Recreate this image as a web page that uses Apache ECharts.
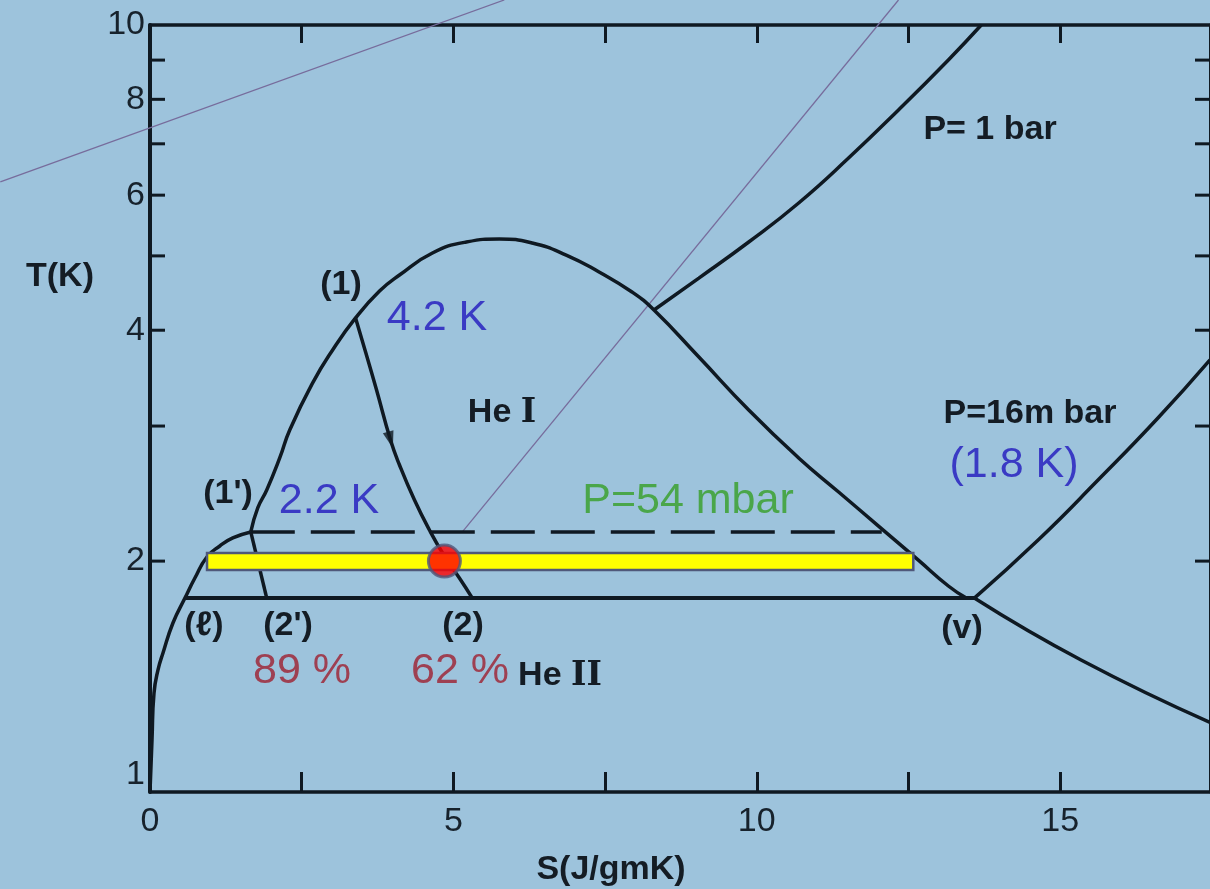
<!DOCTYPE html>
<html><head><meta charset="utf-8">
<script src="https://cdn.jsdelivr.net/npm/echarts@6/dist/echarts.min.js"></script>
<style>html,body{margin:0;padding:0;background:#9dc3dc}#c{width:1210px;height:889px}</style>
</head><body><div id="c"></div>
<script>
// ---- data (S in J/gmK, T in K) ----
const X_MIN = 0, X_MAX = 17.47, Y_MIN = 1, Y_MAX = 10;
const xTickLabels = [0, 5, 10, 15];
const yTickValues = [2, 3, 4, 5, 6, 7, 8, 9];
const yTickLabels = [1, 2, 4, 6, 8, 10];

const domeLiquidS = [0, 0.033, 0.066, 0.132, 0.214, 0.378, 0.576, 0.740, 0.938, 1.151, 1.365, 1.661];
const domeLiquidT = [1.000, 1.169, 1.346, 1.443, 1.518, 1.661, 1.790, 1.901, 2.025, 2.093, 2.144, 2.183];

const domeUpperS = [1.661, 1.776, 1.924, 2.138, 2.303, 2.681, 3.010, 3.388, 3.783, 4.112, 4.655, 5.214, 5.757, 6.299, 6.859, 7.401, 7.944, 8.306, 9.046, 9.868, 10.691, 11.349, 12.007, 12.664, 13.158, 13.454];
const domeUpperT = [2.183, 2.346, 2.476, 2.726, 2.965, 3.415, 3.770, 4.150, 4.499, 4.721, 5.044, 5.213, 5.260, 5.197, 5.013, 4.764, 4.486, 4.250, 3.691, 3.148, 2.726, 2.461, 2.222, 2.006, 1.856, 1.790];

const vaporTailS = [13.586, 15.345, 17.47];
const vaporTailT = [1.790, 1.486, 1.232];

const isobar1barS = [8.306, 9.046, 9.868, 10.691, 11.513, 12.336, 13.158, 13.70];
const isobar1barT = [4.250, 4.678, 5.213, 5.861, 6.707, 7.748, 9.004, 10.0];

const isobar16mbarS = [13.586, 14.638, 15.625, 16.612, 17.47];
const isobar16mbarT = [1.790, 2.131, 2.551, 3.073, 3.66];

const line18KS = [0.576, 13.586];
const line18KT = [1.79, 1.79];

const dashed22KS = [1.661, 12.06];
const dashed22KT = [2.183, 2.183];

const expansion12S = [3.388, 3.553, 3.734, 3.964, 4.112, 4.359, 4.605, 4.852, 5.099, 5.312];
const expansion12T = [4.150, 3.747, 3.343, 2.877, 2.669, 2.402, 2.196, 2.031, 1.901, 1.790];

const expansion1p2pS = [1.661, 1.924];
const expansion1p2pT = [2.183, 1.790];

const arrowPoint = [3.964, 2.877];

const guideAS = [-2.467, 5.839];
const guideAT = [6.243, 10.78];
const guideBS = [5.148, 12.336];
const guideBT = [2.183, 10.78];

const barS0 = 0.94, barS1 = 12.58, barT = 2.0;
const dotPoint = [4.852, 2.0];

// ---- helpers ----
const zip = (a, b) => a.map((v, i) => [v, b[i]]);
const INK = '#0f1922';
const FONT = '"Liberation Sans", Arial, sans-serif';

function blackLine(name, S, T, extra) {
  return Object.assign({
    name, type: 'line', data: zip(S, T), symbol: 'none', silent: true,
    lineStyle: { color: INK, width: 3.5 }, z: 3
  }, extra || {});
}

const annotations = [
  ['(1)', 341, 285, 'k'],
  ['4.2 K', 437, 318, 'b'],
  ['He {n|I}', 502, 413, 'k'],
  ["(1')", 228, 494, 'k'],
  ['2.2 K', 329, 501, 'b'],
  ['P=54 mbar', 688, 501, 'g'],
  ['(\u2113)', 204, 626, 'k'],
  ["(2')", 288, 626, 'k'],
  ['(2)', 463, 626, 'k'],
  ['89 %', 302, 671, 'r'],
  ['62 %', 460, 671, 'r'],
  ['He {n|II}', 560, 676, 'k'],
  ['(v)', 962, 629, 'k'],
  ['P= 1 bar', 990, 130, 'k'],
  ['P=16m bar', 1030, 414, 'k'],
  ['(1.8 K)', 1014, 465, 'b'],
  ['T(K)', 60, 277, 'k'],
  ['S(J/gmK)', 611, 870, 'k']
];
const colorMap = { k: '#141c24', b: '#3a3ac4', g: '#4aa64a', r: '#9e4052' };

const graphic = annotations.map(([t, x, y, c]) => ({
  type: 'text', x, y, silent: true, z: 10,
  style: {
    text: t, fill: colorMap[c],
    font: (c === 'k' ? 'bold 34px ' : '43px ') + FONT,
    lineHeight: 44,
    align: 'center', textAlign: 'center', verticalAlign: 'middle', textVerticalAlign: 'middle',
    rich: { n: { fontFamily: '"DejaVu Serif"', fontWeight: 'bold', fontSize: 33, lineHeight: 44,
      fill: colorMap.k, color: colorMap.k } }
  }
}));

const chart = echarts.init(document.getElementById('c'), null, { renderer: 'canvas' });
const axisCommonX = {
  type: 'value', min: X_MIN, max: X_MAX, interval: 2.5,
  axisLine: { show: true, onZero: false, lineStyle: { color: INK, width: 3.5 } },
  splitLine: { show: false }
};
const guideLine = (S, T) => ({
  type: 'custom', data: [[S[0], T[0], S[1], T[1]]], encode: { x: [0, 2], y: [1, 3] },
  clip: false, silent: true, z: 2,
  renderItem: (params, api) => {
    const a = api.coord([api.value(0), api.value(1)]);
    const b = api.coord([api.value(2), api.value(3)]);
    return { type: 'line', shape: { x1: a[0], y1: a[1], x2: b[0], y2: b[1] },
      style: { stroke: '#776c9c', lineWidth: 1.3 } };
  }
});
chart.setOption({
  animation: false,
  backgroundColor: '#9dc3dc',
  grid: { left: 150, top: 25, width: 1062, height: 767 },
  graphic,
  xAxis: [
    Object.assign({}, axisCommonX, {
      position: 'bottom',
      axisTick: { show: true, inside: true, length: 20, lineStyle: { color: INK, width: 3 } },
      axisLabel: {
        show: true, margin: 13, fontSize: 34, fontFamily: FONT, color: '#17222c',
        showMaxLabel: false,
        formatter: v => (xTickLabels.indexOf(Math.round(v * 100) / 100) >= 0 ? String(v) : '')
      }
    }),
    Object.assign({}, axisCommonX, {
      position: 'top',
      axisTick: { show: true, inside: true, length: 18, lineStyle: { color: INK, width: 3 } },
      axisLabel: { show: false }
    })
  ],
  yAxis: [
    { type: 'log', logBase: 10, min: Y_MIN, max: Y_MAX, position: 'left',
      axisLine: { show: true, onZero: false, lineStyle: { color: INK, width: 4 } },
      axisTick: { show: false }, axisLabel: { show: false }, splitLine: { show: false } },
    { type: 'log', logBase: 10, min: Y_MIN, max: Y_MAX, position: 'right',
      axisLine: { show: true, onZero: false, lineStyle: { color: INK, width: 3 } },
      axisTick: { show: false }, axisLabel: { show: false }, splitLine: { show: false } }
  ],
  series: [
    blackLine('domeLiquid', domeLiquidS, domeLiquidT, { smooth: 0.5 }),
    blackLine('domeUpper', domeUpperS, domeUpperT, { smooth: 0.5 }),
    blackLine('vaporTail', vaporTailS, vaporTailT, { smooth: 0.5 }),
    blackLine('isobar1bar', isobar1barS, isobar1barT, { smooth: 0.5 }),
    blackLine('isobar16mbar', isobar16mbarS, isobar16mbarT, { smooth: 0.5 }),
    blackLine('line18K', line18KS, line18KT, { lineStyle: { color: INK, width: 4 } }),
    blackLine('dashed22K', dashed22KS, dashed22KT, { lineStyle: { color: INK, width: 3.5, type: [44, 16] } }),
    blackLine('expansion12', expansion12S, expansion12T, { smooth: 0.5 }),
    blackLine('expansion1p2p', expansion1p2pS, expansion1p2pT),
    { type: 'scatter', data: [arrowPoint], symbol: 'triangle', symbolSize: [11, 17], symbolRotate: 196,
      itemStyle: { color: INK }, silent: true, z: 4 },
    guideLine(guideAS, guideAT),
    guideLine(guideBS, guideBT),
    { type: 'custom', data: [[barS0, barS1, barT]], encode: { x: [0, 1], y: 2 }, silent: true, z: 5,
      renderItem: (params, api) => {
        const a = api.coord([api.value(0), api.value(2)]);
        const b = api.coord([api.value(1), api.value(2)]);
        return { type: 'rect', shape: { x: a[0], y: a[1] - 8, width: b[0] - a[0], height: 17 },
          style: { fill: '#ffff00', stroke: '#4f587a', lineWidth: 2.5 } };
      } },
    { type: 'scatter', data: [dotPoint], symbol: 'circle', symbolSize: 32, silent: true, z: 6,
      itemStyle: { color: '#ff0000', borderColor: '#4f587a', borderWidth: 3 } },
    { type: 'custom', data: yTickValues.map(t => [X_MIN, t]), encode: { x: 0, y: 1 }, clip: false, silent: true, z: 7,
      renderItem: (params, api) => {
        const t = api.value(1);
        const pl = api.coord([X_MIN, t]);
        const pr = api.coord([X_MAX, t]);
        const st = { stroke: INK, lineWidth: 3 };
        return { type: 'group', children: [
          { type: 'line', shape: { x1: pl[0], y1: pl[1], x2: pl[0] + 15, y2: pl[1] }, style: st },
          { type: 'line', shape: { x1: pr[0], y1: pr[1], x2: pr[0] - 15, y2: pr[1] }, style: st }
        ] };
      } },
    { type: 'custom', data: yTickLabels.map(t => [X_MIN, t]), encode: { x: 0, y: 1 }, clip: false, silent: true, z: 7,
      renderItem: (params, api) => {
        const t = api.value(1);
        const p = api.coord([X_MIN, t]);
        return { type: 'text', x: p[0] - 5, y: p[1] + (t === 1 ? -17 : 0),
          style: { text: String(t), fill: '#17222c', font: '34px ' + FONT,
            align: 'right', textAlign: 'right', verticalAlign: 'middle', textVerticalAlign: 'middle' } };
      } }
  ]
});
</script>
</body></html>
